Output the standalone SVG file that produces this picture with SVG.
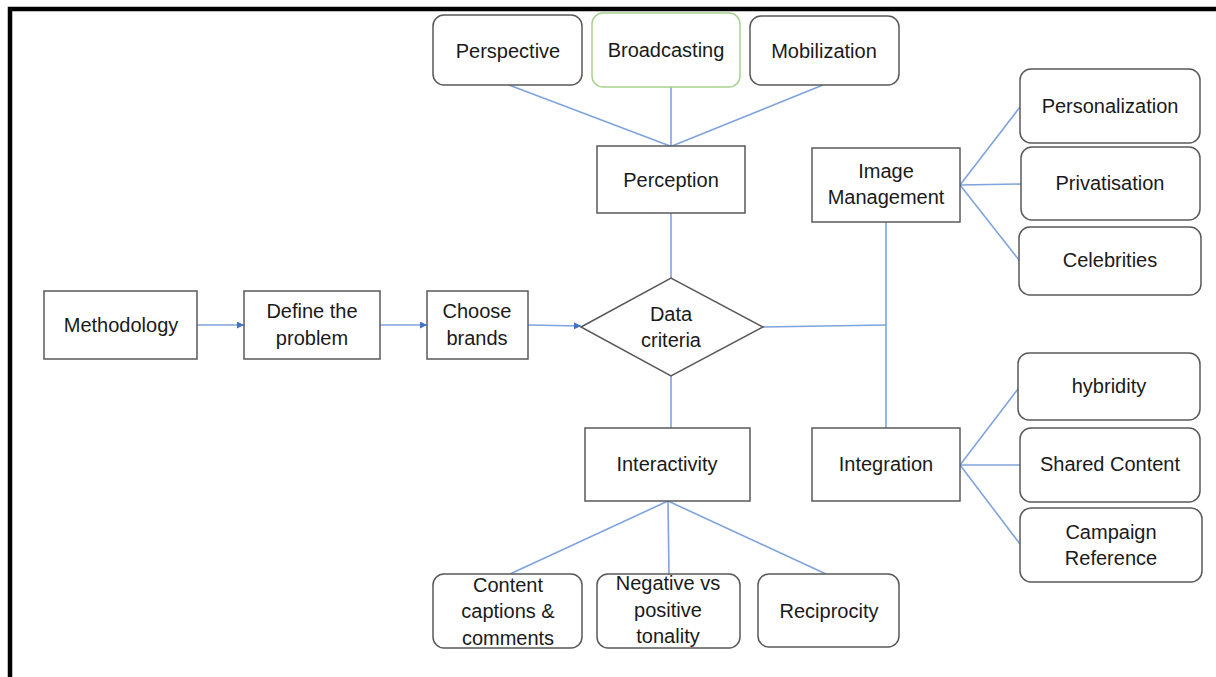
<svg xmlns="http://www.w3.org/2000/svg" width="1216" height="677" viewBox="0 0 1216 677">
<style>
.box{fill:#fff;stroke:#595959;stroke-width:1.5}
.rbox{fill:#fff;stroke:#595959;stroke-width:1.5}
.green{fill:#fff;stroke:#a9d18e;stroke-width:1.5}
.t{font-family:"Liberation Sans",Arial,sans-serif;font-size:20px;fill:#1a1a1a;text-anchor:middle}
.c{stroke:#7fa3dc;stroke-width:1.6;fill:none}
</style>
<defs>
<marker id="arr" viewBox="0 0 10 10" refX="10" refY="5" markerWidth="7" markerHeight="7" markerUnits="userSpaceOnUse" orient="auto">
<path d="M0,0 L10,5 L0,10 z" fill="#4472c4"/>
</marker>
</defs>
<rect width="1216" height="677" fill="#fff"/>
<path d="M10 677 V9 H1216" fill="none" stroke="#000" stroke-width="4.5"/>

<g id="connectors">
<line class="c" x1="509" y1="85" x2="670" y2="146"/>
<line class="c" x1="671" y1="87" x2="671" y2="146"/>
<line class="c" x1="823" y1="85" x2="672" y2="146"/>
<line class="c" x1="671" y1="213" x2="671" y2="278"/>
<line class="c" x1="671" y1="376" x2="671" y2="428"/>
<line class="c" x1="763" y1="327" x2="886" y2="325"/>
<line class="c" x1="886" y1="222" x2="886" y2="428"/>
<line class="c" x1="960" y1="185" x2="1020" y2="107"/>
<line class="c" x1="960" y1="185" x2="1021" y2="184"/>
<line class="c" x1="960" y1="185" x2="1019" y2="260"/>
<line class="c" x1="960" y1="465" x2="1018" y2="389"/>
<line class="c" x1="960" y1="465" x2="1020" y2="465"/>
<line class="c" x1="960" y1="465" x2="1020" y2="544"/>
<line class="c" x1="668" y1="501" x2="510" y2="574"/>
<line class="c" x1="668" y1="501" x2="669" y2="574"/>
<line class="c" x1="668" y1="501" x2="826" y2="574"/>
<line class="c" x1="197" y1="325" x2="244" y2="325" marker-end="url(#arr)"/>
<line class="c" x1="380" y1="325" x2="427" y2="325" marker-end="url(#arr)"/>
<line class="c" x1="528" y1="325" x2="581" y2="326" marker-end="url(#arr)"/>
</g>

<g id="perspective"><rect class="rbox" x="433" y="15" width="149" height="70" rx="11"/><text class="t" x="508" y="58">Perspective</text></g>
<g id="broadcasting"><rect class="green" x="592" y="13" width="148" height="74" rx="11"/><text class="t" x="666" y="57">Broadcasting</text></g>
<g id="mobilization"><rect class="rbox" x="750" y="16" width="149" height="69" rx="11"/><text class="t" x="824" y="58">Mobilization</text></g>
<g id="perception"><rect class="box" x="597" y="146" width="148" height="67"/><text class="t" x="671" y="187">Perception</text></g>
<g id="image-management"><rect class="box" x="812" y="148" width="148" height="74"/><text class="t" x="886" y="178">Image</text><text class="t" x="886" y="204">Management</text></g>
<g id="personalization"><rect class="rbox" x="1020" y="69" width="180" height="74" rx="11"/><text class="t" x="1110" y="113">Personalization</text></g>
<g id="privatisation"><rect class="rbox" x="1021" y="147" width="179" height="73" rx="11"/><text class="t" x="1110" y="190">Privatisation</text></g>
<g id="celebrities"><rect class="rbox" x="1019" y="227" width="182" height="68" rx="11"/><text class="t" x="1110" y="267">Celebrities</text></g>
<g id="methodology"><rect class="box" x="44" y="291" width="153" height="68"/><text class="t" x="121" y="332">Methodology</text></g>
<g id="define-problem"><rect class="box" x="244" y="291" width="136" height="68"/><text class="t" x="312" y="318">Define the</text><text class="t" x="312" y="345">problem</text></g>
<g id="choose-brands"><rect class="box" x="427" y="291" width="101" height="68"/><text class="t" x="477" y="318">Choose</text><text class="t" x="477" y="345">brands</text></g>
<g id="data-criteria"><polygon class="box" points="581,327 671,278 763,327 671,376"/><text class="t" x="671" y="321">Data</text><text class="t" x="671" y="347">criteria</text></g>
<g id="interactivity"><rect class="box" x="585" y="428" width="165" height="73"/><text class="t" x="667" y="471">Interactivity</text></g>
<g id="integration"><rect class="box" x="812" y="428" width="148" height="73"/><text class="t" x="886" y="471">Integration</text></g>
<g id="hybridity"><rect class="rbox" x="1018" y="353" width="182" height="67" rx="11"/><text class="t" x="1109" y="393">hybridity</text></g>
<g id="shared-content"><rect class="rbox" x="1020" y="428" width="180" height="74" rx="11"/><text class="t" x="1110" y="471">Shared Content</text></g>
<g id="campaign-reference"><rect class="rbox" x="1020" y="508" width="182" height="74" rx="11"/><text class="t" x="1111" y="539">Campaign</text><text class="t" x="1111" y="565">Reference</text></g>
<g id="content-captions"><rect class="rbox" x="433" y="574" width="149" height="74" rx="11"/><text class="t" x="508" y="592">Content</text><text class="t" x="508" y="618">captions &amp;</text><text class="t" x="508" y="645">comments</text></g>
<g id="negative-positive"><rect class="rbox" x="597" y="574" width="143" height="74" rx="11"/><text class="t" x="668" y="590">Negative vs</text><text class="t" x="668" y="617">positive</text><text class="t" x="668" y="643">tonality</text></g>
<g id="reciprocity"><rect class="rbox" x="758" y="574" width="141" height="73" rx="11"/><text class="t" x="829" y="618">Reciprocity</text></g>
</svg>
